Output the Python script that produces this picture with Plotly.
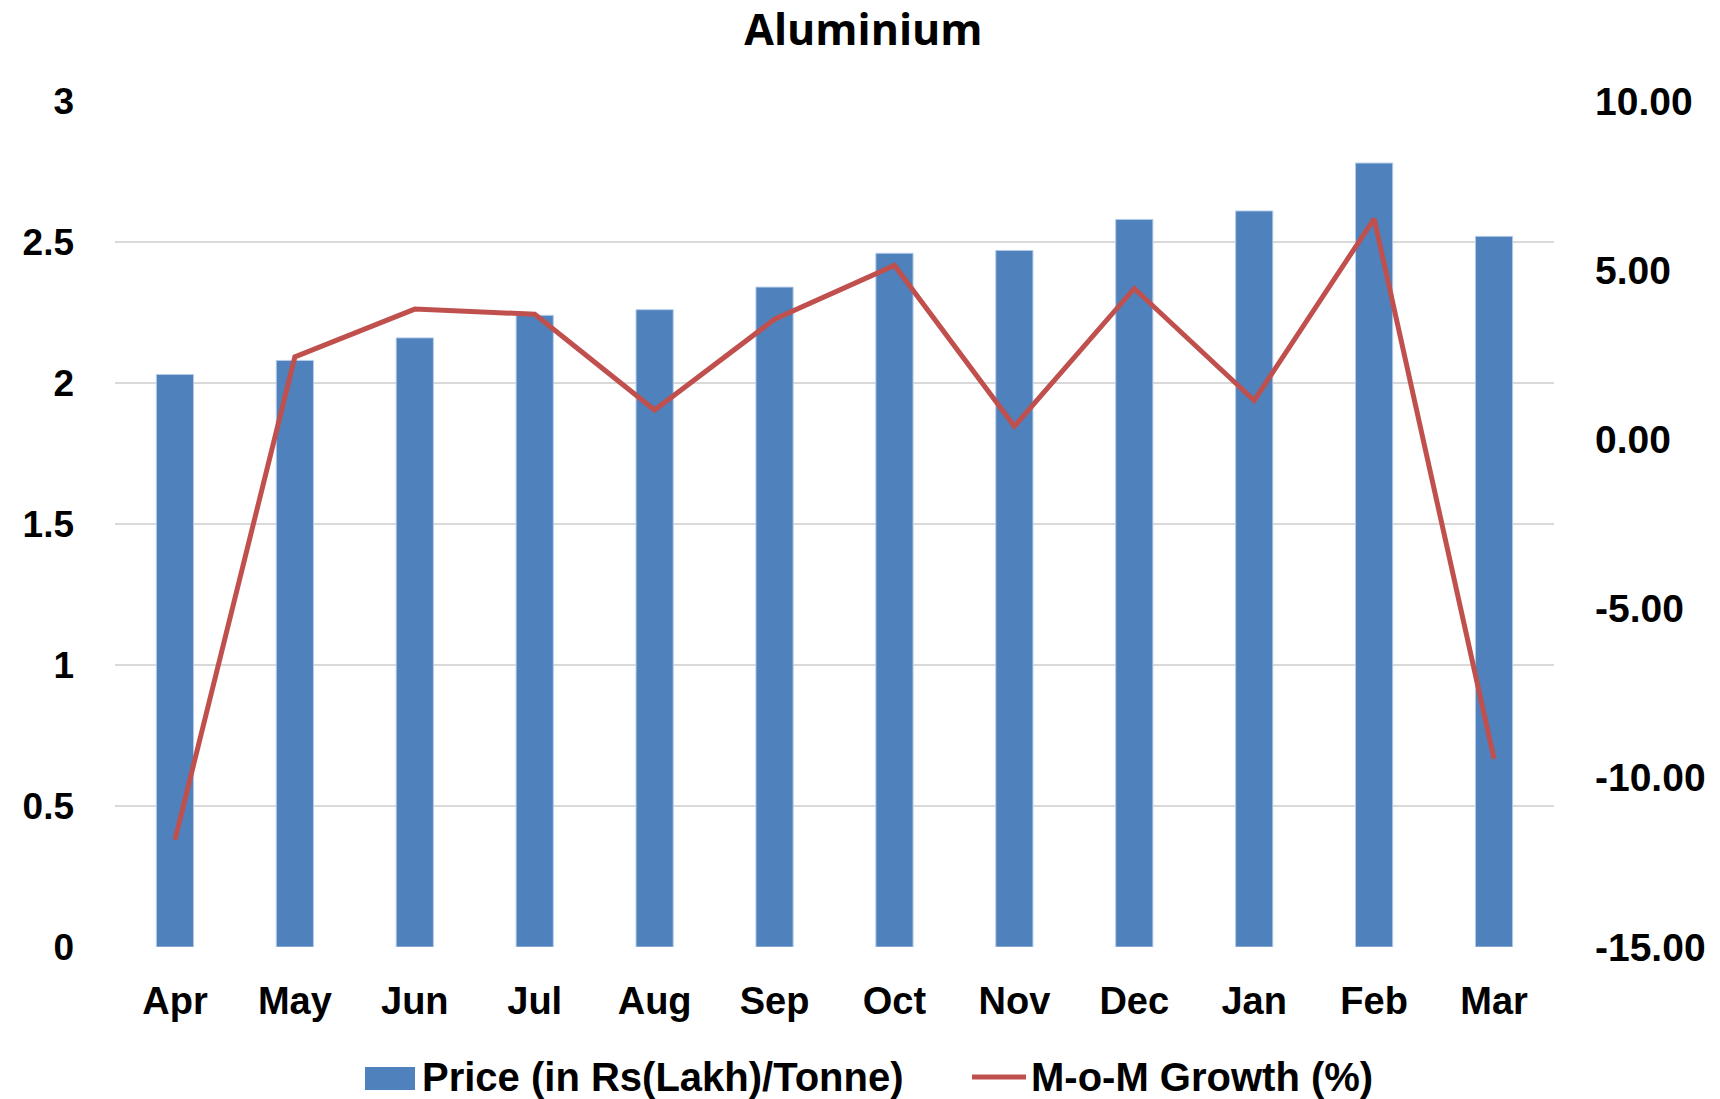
import plotly.graph_objects as go

months = ["Apr", "May", "Jun", "Jul", "Aug", "Sep", "Oct", "Nov", "Dec", "Jan", "Feb", "Mar"]
price = [2.03, 2.08, 2.16, 2.24, 2.26, 2.34, 2.46, 2.47, 2.58, 2.61, 2.78, 2.52]
growth = [-11.83, 2.44, 3.85, 3.70, 0.87, 3.55, 5.14, 0.39, 4.46, 1.15, 6.52, -9.44]
left_ticks = [0, 0.5, 1, 1.5, 2, 2.5, 3]
left_labels = ["0", "0.5", "1", "1.5", "2", "2.5", "3"]
right_ticks = [-15, -10, -5, 0, 5, 10]
right_labels = ["-15.00", "-10.00", "-5.00", "0.00", "5.00", "10.00"]
series_names = ["Price (in Rs(Lakh)/Tonne)", "M-o-M Growth (%)"]

BLUE = "#4F81BD"
RED = "#C0504D"
FONT = "Liberation Sans"

fig = go.Figure()
fig.add_trace(go.Bar(
    x=months, y=price, name=series_names[0], width=0.31,
    marker=dict(color=BLUE, line=dict(color="#B4CBE8", width=1)),
    yaxis="y", showlegend=False,
))
fig.add_trace(go.Scatter(
    x=months, y=growth, name=series_names[1], mode="lines",
    line=dict(color=RED, width=5), yaxis="y2", showlegend=False,
))

tickfont = dict(family=FONT, size=37, color="black", weight="bold")
rtickfont = dict(family=FONT, size=39, color="black", weight="bold")

fig.update_layout(
    width=1720, height=1099,
    margin=dict(l=115, r=166, t=101, b=152),
    paper_bgcolor="white", plot_bgcolor="white",
    title=dict(text="Aluminium", x=0.502, xref="container", xanchor="center",
               y=1 - 30 / 1099, yref="container", yanchor="middle",
               font=dict(family="Open Sans", size=43, color="black", weight="bold")),
    xaxis=dict(showgrid=False, showline=False, ticks="", tickfont=dict(family=FONT, size=38, color="black", weight="bold"),
               ticklabelstandoff=28),
    yaxis=dict(range=[0, 3], tickvals=left_ticks, ticktext=left_labels,
               showgrid=True, gridcolor="#D9D9D9", gridwidth=1.5,
               zeroline=False, showline=False, ticks="",
               tickfont=tickfont, ticklabelstandoff=40),
    yaxis2=dict(range=[-15, 10], tickvals=right_ticks, ticktext=right_labels,
                overlaying="y", side="right", showgrid=False, zeroline=False,
                showline=False, ticks="", tickfont=rtickfont, ticklabelstandoff=40),
    bargap=0.69,
)

# manual legend (paper coordinates)
plot_l, plot_w, plot_b, plot_h = 115, 1439, 947, 846
def px(x):
    return (x - plot_l) / plot_w
def py(y):
    return (plot_b - y) / plot_h

fig.add_shape(type="rect", xref="paper", yref="paper",
              x0=px(365), x1=px(415), y0=py(1090), y1=py(1067),
              fillcolor=BLUE, line=dict(width=0))
fig.add_shape(type="line", xref="paper", yref="paper",
              x0=px(972), x1=px(1026), y0=py(1077), y1=py(1077),
              line=dict(color=RED, width=5))
legfont = dict(family=FONT, size=40, color="black", weight="bold")
fig.add_annotation(text=series_names[0], xref="paper", yref="paper",
                   x=px(420), y=py(1077), xanchor="left", yanchor="middle",
                   showarrow=False, font=legfont)
fig.add_annotation(text=series_names[1], xref="paper", yref="paper",
                   x=px(1029), y=py(1077), xanchor="left", yanchor="middle",
                   showarrow=False, font=legfont)

fig.write_html("out.html", config={"displayModeBar": False},
               post_script="document.body.style.margin='0';document.body.style.overflow='hidden';")
